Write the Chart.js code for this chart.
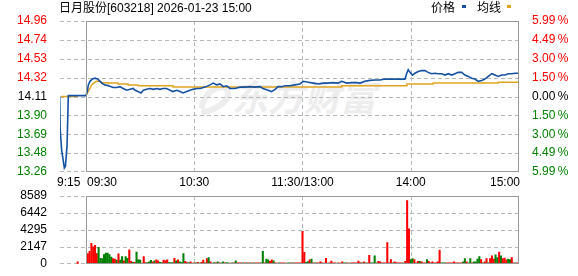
<!DOCTYPE html>
<html>
<head>
<meta charset="utf-8">
<script src="https://cdn.jsdelivr.net/npm/chart.js@4.4.1/dist/chart.umd.min.js"></script>
<style>
html,body{margin:0;padding:0;background:#fff;}
#wrap{position:relative;width:578px;height:276px;overflow:hidden;font-family:Arial,"Liberation Sans","Noto Sans CJK SC",sans-serif;}
#priceCanvas{position:absolute;left:0;top:0;}
#volCanvas{position:absolute;left:0;top:180px;}
.title{position:absolute;left:59px;top:1px;font-size:12px;line-height:15px;color:#000;white-space:nowrap;}
.leg{position:absolute;top:1px;font-size:12px;line-height:15px;color:#000;white-space:nowrap;}
.mk{position:absolute;top:5px;width:4px;height:3px;}
.wm{position:absolute;left:232px;top:76px;font-size:36px;line-height:38px;font-weight:bold;font-style:italic;color:#ededed;white-space:nowrap;font-family:"Noto Sans CJK SC",sans-serif;}
.wmlogo{position:absolute;left:196px;top:76px;}
</style>
</head>
<body>
<div id="wrap">
  <svg class="wmlogo" width="40" height="40" viewBox="0 0 40 40"><path d="M6 30 C 10 12, 30 6, 32 16 C 34 26, 18 34, 8 36" fill="none" stroke="#ededed" stroke-width="6" stroke-linecap="round"/></svg>
  <div class="wm">东方财富</div>
  <canvas id="priceCanvas" width="578" height="190"></canvas>
  <canvas id="volCanvas" width="578" height="96"></canvas>
  <div class="title" id="title"></div>
  <div class="leg" id="leg1" style="left:431px"></div>
  <div class="mk" id="mk1" style="left:462px"></div>
  <div class="leg" id="leg2" style="left:477px"></div>
  <div class="mk" id="mk2" style="left:507px"></div>
</div>
<script>
// ---------------- data ----------------
const chartTitle = '日月股份[603218] 2026-01-23 15:00';
const legendLabels = ['价格', '均线'];
const prevClose = 14.11;

// time axis: minutes from 09:30 (negative = pre-market call auction)
const timeLabels = ['9:15', '09:30', '10:30', '11:30/13:00', '14:00', '15:00'];
const timeLabelMinutes = [-14.41, 0, 60, 120, 180, 240];
const gridMinutes = [60, 120, 180];

// price axis (bottom -> top)
const priceAxisMin = 13.265;
const priceAxisMax = 14.955;
const priceTickLabels = ['13.26', '13.48', '13.69', '13.90', '14.11', '14.32', '14.53', '14.74', '14.96'];
const pctAxisMin = -5.99;
const pctAxisMax = 5.99;
const pctTickLabels = ['5.99\u2009%', '4.49\u2009%', '3.00\u2009%', '1.50\u2009%', '0.00\u2009%', '1.50\u2009%', '3.00\u2009%', '4.49\u2009%', '5.99\u2009%'];

// volume axis
const volAxisMax = 8589;
const volTickLabels = ['0', '2147', '4295', '6442', '8589'];

// price line
const priceTimes = [-14.6, -14.3, -13.5, -12.0, -11.4, -10.5, -9.8, 0,
  0.7, 1.3, 2.2, 3.5, 5, 6.5, 7.8, 8.7, 10.5, 12.4, 15.1, 17, 18.8, 20.6, 22.6, 24.4, 26.2, 27.2, 28.8, 30.5,
  31.8, 33.6, 35.5, 37.3, 39.2, 41, 42.7, 44.7, 46.6, 48.2, 50.3, 52.1, 53.8, 55.8, 57.6, 59.3, 61.4, 63.2,
  66, 68.7, 70.6, 72.4, 74.3, 76.1, 78, 79.8, 82.6, 85.4, 88.1, 90.9, 93.7, 96.4, 98.1, 100.9, 102.9, 104.8,
  106.4, 108.5, 110.3, 113.1, 115.8, 118.6, 120.4, 123.2, 126, 128.8, 131.5, 134.1, 136.9, 139.7, 141.7,
  144.5, 147.3, 150, 151.9, 154.6, 157.4, 160.2, 163, 165.7, 171.3, 176.8, 177.8, 178.6, 179.6, 180.9, 182.3,
  184.2, 186.1, 187.9, 189.6, 191.6, 193.4, 195.1, 197.2, 199, 200.8, 202.7, 204.5, 206.3, 208.2, 210, 211.9,
  213.8, 215.6, 217.4, 219.3, 221.1, 223, 224.9, 226.7, 228.5, 230.4, 232.2, 234.1, 235.9, 237.8, 240];
const priceValues = [14.11, 13.74, 13.51, 13.31, 13.33, 13.56, 14.12, 14.12,
  14.165, 14.24, 14.28, 14.305, 14.315, 14.305, 14.28, 14.26, 14.24, 14.23, 14.21, 14.21, 14.22, 14.20, 14.18, 14.19, 14.20, 14.18, 14.165, 14.15,
  14.18, 14.19, 14.20, 14.19, 14.20, 14.19, 14.20, 14.20, 14.18, 14.165, 14.18, 14.165, 14.15, 14.165, 14.18, 14.19, 14.20, 14.20,
  14.215, 14.24, 14.26, 14.24, 14.25, 14.22, 14.23, 14.20, 14.20, 14.215, 14.215, 14.22, 14.215, 14.22, 14.20, 14.18, 14.165, 14.19,
  14.22, 14.22, 14.23, 14.23, 14.24, 14.25, 14.28, 14.27, 14.26, 14.25, 14.26, 14.26, 14.265, 14.26, 14.28,
  14.26, 14.265, 14.265, 14.26, 14.28, 14.29, 14.295, 14.295, 14.305, 14.305, 14.305, 14.37, 14.41, 14.38, 14.35, 14.37,
  14.39, 14.40, 14.40, 14.38, 14.365, 14.37, 14.365, 14.365, 14.35, 14.365, 14.35, 14.365, 14.38, 14.38, 14.35, 14.335,
  14.315, 14.305, 14.28, 14.29, 14.305, 14.335, 14.365, 14.35, 14.335, 14.35, 14.35, 14.365, 14.365, 14.37, 14.37];

// average price line (null = no line)
const avgTimes = [-13.9, -4.6, -4.5, 0, 0.7, 2.2, 3.1, 4.6, 5.9, 7.8, 8.7, 12.2, 12.4, 17.7, 17.8, 23.3, 23.4, 28.8, 28.9,
  48.2, 48.3, 141.7, 141.8, 177.8, 177.9, 192.4, 192.5, 228.4, 228.5, 240];
const avgValues = [14.11, 14.11, null, 14.12, 14.15, 14.20, 14.24, 14.265, 14.28, 14.28, 14.265, 14.265, 14.26, 14.26, 14.25, 14.25, 14.24, 14.24, 14.23,
  14.23, 14.215, 14.215, 14.23, 14.23, 14.25, 14.25, 14.26, 14.26, 14.27, 14.27];

// volume: pre-market auction bar, then one bar per minute 09:31 .. 15:00
const preVolumeTime = -4.6;
const preVolume = 235;
const volumes = [
  1295,1570,2590,2160,2350,1295,2080,700,670,1180,
  1370,1370,1180,860,670,590,470,1260,470,900,
  390,900,700,1765,315,200,200,1490,550,470,
  80,900,150,150,235,430,235,390,510,390,
  200,150,470,390,510,150,150,150,700,390,
  510,235,200,1295,315,150,150,235,80,118,
  118,200,80,200,470,118,670,790,235,80,
  150,118,235,118,118,235,118,150,118,80,
  118,118,390,118,118,118,118,118,118,118,
  118,118,118,118,118,118,118,1570,118,590,
  510,315,510,390,118,80,118,118,118,118,
  80,118,118,118,118,118,118,118,118,4120,
  1450,200,270,510,590,118,118,118,118,235,
  118,80,700,80,118,350,118,118,80,118,
  80,235,118,118,118,80,118,118,118,118,
  350,150,118,235,118,118,1060,118,118,1020,
  118,315,235,118,118,118,2700,118,550,118,
  235,150,118,118,118,118,315,8000,4430,550,
  670,550,118,315,315,235,118,118,550,315,
  118,235,118,118,235,1730,118,118,118,118,
  118,118,118,235,118,118,118,118,235,670,
  235,118,670,118,235,235,590,900,550,118,
  235,670,118,670,1020,590,1140,790,1490,1020,
  670,740,470,590,550,790,118,118,118,1960];
const volumeDirs = (
  'RRRRRRGGGG' + 'GGGGRRGRGG' + 'RGGRRGRGGG' + 'RRRGGGRGRR' + 'GGRRRGGGRG' +
  'RGGGRRGRRR' + 'GRGRRGRGRR' + 'GRGRGGRGGR' + 'GRGRRRGRGR' + 'GRGRRRGGRG' +
  'GRRGRRGRRR' + 'RGGRGRRRRR' + 'RGGRGRGRRR' + 'RGRGRRRRGR' + 'RRGGRGRRRR' +
  'RRGRGRRGGG' + 'GRRRRRRRRG' + 'RRRRRGRRRG' + 'GRRRGRRRGR' + 'RRRRRRGGGR' +
  'RRRRRRRRGG' + 'RGGRGGGGRG' + 'RRGRRRGGRG' + 'RRRGGRRGRR').split('');

// ---------------- style ----------------
const BLUE = '#1552a3';
const ORANGE = '#e0a422';
const UP = '#ff0000';
const DOWN = '#008000';
const FLAT = '#000000';
const GRID = '#b8b8b8';
const FRAME = '#999999';
const FONT = 'Arial, "Liberation Sans", "Noto Sans CJK SC", sans-serif';
const X_MIN = -14.41, X_MAX = 240;

document.getElementById('title').textContent = chartTitle;
document.getElementById('leg1').textContent = legendLabels[0];
document.getElementById('leg2').textContent = legendLabels[1];
document.getElementById('mk1').style.background = BLUE;
document.getElementById('mk2').style.background = ORANGE;

Chart.defaults.font.family = FONT;
Chart.defaults.font.size = 12;
Chart.defaults.color = '#000';

function evenValues(min, max, n) {
  const out = [];
  for (let i = 0; i < n; i++) out.push(min + i * (max - min) / (n - 1));
  return out;
}
function signColor(i, mid) { return i > mid ? UP : (i < mid ? DOWN : FLAT); }

const priceGridValues = evenValues(priceAxisMin, priceAxisMax, priceTickLabels.length);
const pctGridValues = evenValues(pctAxisMin, pctAxisMax, pctTickLabels.length);
const volGridValues = volTickLabels.map(s => Number(s));

const xScale = () => ({
  type: 'linear', min: X_MIN, max: X_MAX, position: 'bottom', offset: false,
  afterFit: s => { s.height = 0; },
  ticks: { display: false },
  grid: { display: false, offset: false },
  border: { display: false }
});

// dashed grid + frame; rows placed by the y axis' own range within the chart area
function makeFramePlugin(gridValues, vMin, vMax) {
  return {
    id: 'frameGrid',
    afterDraw(chart) {
      const ctx = chart.ctx;
      const area = chart.chartArea;
      const xs = chart.scales.x;
      const L = Math.round(area.left), R = Math.round(area.right);
      const T = Math.round(area.top), B = Math.round(area.bottom);
      ctx.save();
      ctx.globalCompositeOperation = 'destination-over';
      ctx.fillStyle = GRID;
      for (let k = 0; k < gridValues.length; k++) {
        const frac = (gridValues[k] - vMin) / (vMax - vMin);
        let yy = Math.round(B - frac * (B - T));
        if (yy >= B) yy = B - 1;
        for (let x = L; x < R; x += 7) ctx.fillRect(x, yy, Math.min(4, R - x), 1);
      }
      for (let k = 0; k < gridMinutes.length; k++) {
        const x = Math.round(xs.getPixelForValue(gridMinutes[k]));
        for (let y = T; y < B; y += 7) ctx.fillRect(x, y, 1, Math.min(4, B - y));
      }
      ctx.restore();
      ctx.save();
      const x0 = Math.round(xs.getPixelForValue(0)) + 0.5;
      ctx.strokeStyle = FRAME;
      ctx.lineWidth = 1;
      ctx.strokeRect(x0, T + 0.5, (R - 0.5) - x0, B - T - 1);
      ctx.restore();
    }
  };
}

const timeLabelAlign = ['left', 'left', 'center', 'center', 'center', 'right'];
const timeLabelShift = [-3, 1, 0, 0, 0, 1];
const timeLabelPlugin = {
  id: 'timeLabels',
  afterDraw(chart) {
    const { ctx, chartArea, scales } = chart;
    ctx.save();
    ctx.font = '12px ' + FONT;
    ctx.fillStyle = '#000';
    ctx.textBaseline = 'middle';
    timeLabels.forEach((t, i) => {
      ctx.textAlign = timeLabelAlign[i];
      ctx.fillText(t, scales.x.getPixelForValue(timeLabelMinutes[i]) + timeLabelShift[i], chartArea.bottom + 10.5);
    });
    ctx.restore();
  }
};

new Chart(document.getElementById('priceCanvas'), {
  type: 'line',
  data: {
    datasets: [
      { label: legendLabels[0], data: priceTimes.map((t, i) => ({ x: t, y: priceValues[i] })),
        borderColor: BLUE, borderWidth: 1.6, pointRadius: 0, tension: 0, yAxisID: 'y' },
      { label: legendLabels[1], data: avgTimes.map((t, i) => ({ x: t, y: avgValues[i] })),
        borderColor: ORANGE, borderWidth: 1.5, pointRadius: 0, tension: 0, spanGaps: false, yAxisID: 'y' }
    ]
  },
  options: {
    responsive: false, animation: false,
    layout: { padding: { top: 21, bottom: 18, left: 0, right: 0 } },
    plugins: { legend: { display: false }, tooltip: { enabled: false } },
    scales: {
      x: xScale(),
      y: {
        position: 'left', min: priceAxisMin, max: priceAxisMax,
        afterBuildTicks: s => { s.ticks = priceGridValues.map(v => ({ value: v })); },
        afterFit: s => { s.width = 60; },
        ticks: { padding: 5, autoSkip: false, callback: (v, i) => priceTickLabels[i],
                 color: c => signColor(c.index, (priceTickLabels.length - 1) / 2) },
        grid: { display: false },
        border: { display: false }
      },
      y1: {
        position: 'right', min: pctAxisMin, max: pctAxisMax,
        afterBuildTicks: s => { s.ticks = pctGridValues.map(v => ({ value: v })); },
        afterFit: s => { s.width = 59; },
        ticks: { padding: 5, autoSkip: false, callback: (v, i) => pctTickLabels[i],
                 color: c => signColor(c.index, (pctTickLabels.length - 1) / 2) },
        grid: { display: false },
        border: { display: false }
      }
    }
  },
  plugins: [makeFramePlugin(priceGridValues, priceAxisMin, priceAxisMax), timeLabelPlugin]
});

const volData = [{ x: preVolumeTime, y: preVolume }].concat(volumes.map((v, i) => ({ x: i + 1, y: v })));
const volColors = [UP].concat(volumeDirs.map(d => d === 'R' ? UP : DOWN));

new Chart(document.getElementById('volCanvas'), {
  type: 'bar',
  data: {
    datasets: [{ label: 'volume', data: volData, backgroundColor: volColors, borderWidth: 0,
                 barThickness: 1.4, categoryPercentage: 1, barPercentage: 1 }]
  },
  options: {
    responsive: false, animation: false,
    layout: { padding: { top: 16, bottom: 7, left: 0, right: 59 } },
    plugins: { legend: { display: false }, tooltip: { enabled: false } },
    scales: {
      x: xScale(),
      y: {
        position: 'left', min: 0, max: volAxisMax,
        afterBuildTicks: s => { s.ticks = volGridValues.map(v => ({ value: v })); },
        afterFit: s => { s.width = 60; },
        ticks: { padding: 5, autoSkip: false, callback: (v, i) => volTickLabels[i], color: '#000' },
        grid: { display: false },
        border: { display: false }
      }
    }
  },
  plugins: [makeFramePlugin(volGridValues, 0, volAxisMax)]
});
</script>
</body>
</html>
